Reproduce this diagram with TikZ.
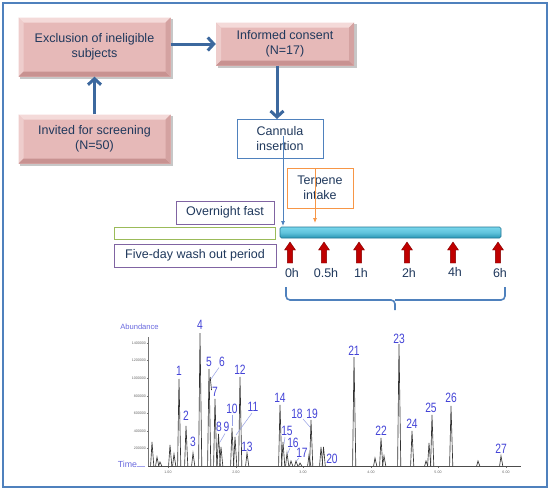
\documentclass[tikz,border=0pt]{standalone}
\usepackage{fontspec}
\setmainfont{Liberation Sans}
\newfontfamily\chromfont[FakeStretch=0.76]{Liberation Sans}
\usetikzlibrary{arrows.meta,calc}
\definecolor{frameblue}{RGB}{79,129,189}
\definecolor{arrowblue}{RGB}{60,104,158}
\definecolor{txt}{RGB}{31,56,92}
\definecolor{pinkbase}{RGB}{230,185,184}
\definecolor{pinklight}{RGB}{244,218,217}
\definecolor{pinkdark}{RGB}{200,146,145}
\definecolor{purp}{RGB}{128,100,162}
\definecolor{grn}{RGB}{155,187,89}
\definecolor{orng}{RGB}{247,150,70}
\definecolor{cyanlight}{RGB}{120,214,236}
\definecolor{cyandark}{RGB}{40,150,180}
\definecolor{cyanedge}{RGB}{35,120,150}
\definecolor{redarrow}{RGB}{192,0,0}
\definecolor{rededge}{RGB}{130,0,0}
\definecolor{chromlbl}{RGB}{68,68,215}
\definecolor{leader}{RGB}{150,160,230}
\tikzset{
  bevelbox/.style={fill=pinkbase, inner sep=0pt, align=center, text=txt,
    font=\fontsize{12.5}{15.5}\selectfont,
    path picture={
      \fill[pinklight] (path picture bounding box.north west) -- (path picture bounding box.north east)
        -- ([xshift=-5pt,yshift=-5pt]path picture bounding box.north east) -- ([xshift=5pt,yshift=-5pt]path picture bounding box.north west) -- cycle;
      \fill[pinklight!60!pinkbase] (path picture bounding box.north west) -- ([xshift=5pt,yshift=-5pt]path picture bounding box.north west)
        -- ([xshift=5pt,yshift=5pt]path picture bounding box.south west) -- (path picture bounding box.south west) -- cycle;
      \fill[pinkdark] (path picture bounding box.south west) -- (path picture bounding box.south east)
        -- ([xshift=-5pt,yshift=5pt]path picture bounding box.south east) -- ([xshift=5pt,yshift=5pt]path picture bounding box.south west) -- cycle;
      \fill[pinkdark!60!pinkbase] (path picture bounding box.north east) -- ([xshift=-5pt,yshift=-5pt]path picture bounding box.north east)
        -- ([xshift=-5pt,yshift=5pt]path picture bounding box.south east) -- (path picture bounding box.south east) -- cycle;
    }},
  thinbox/.style={draw=#1, line width=0.9pt, fill=white, inner sep=0pt, align=center, text=txt,
    font=\fontsize{12.5}{15.5}\selectfont},
  flowarrow/.style={draw=arrowblue, line width=3pt, -{Straight Barb[length=6pt,width=13pt]}},
  markarrow/.style={line width=0.8pt, -{Latex[length=5pt,width=4pt]}},
  hourlbl/.style={text=txt, font=\fontsize{12.5}{15}\selectfont, inner sep=0pt},
  redup/.style={fill=redarrow, draw=rededge, line width=0.4pt},
  peak/.style={draw=black!80, line width=0.65pt},
  clbl/.style={text=chromlbl, font=\chromfont\fontsize{13.5}{13.5}\selectfont, inner sep=0pt},
  leadline/.style={draw=leader, line width=0.5pt},
  ticklbl/.style={text=black!60, font=\fontsize{3.6}{4}\selectfont, inner sep=0pt},
}
\begin{document}
\begin{tikzpicture}[x=1pt,y=-1pt]
\useasboundingbox (0,0) rectangle (550,491);
\fill[white] (0,0) rectangle (550,491);
% outer frame
\draw[frameblue, line width=2pt] (3,3) rectangle (547,487);

% shadows
\fill[black!22] (20,19) rectangle (173,79);
\fill[black!22] (20,116) rectangle (173,166);
\fill[black!22] (218,24) rectangle (357,68);
% pink boxes
\node[bevelbox, minimum width=152pt, minimum height=59pt] (excl) at (94.5,47) {Exclusion of ineligible\\subjects};
\node[bevelbox, minimum width=152pt, minimum height=49pt] (invit) at (94.5,139) {Invited for screening\\(N=50)};
\node[bevelbox, minimum width=138pt, minimum height=43pt] (cons) at (285,44) {Informed consent\\(N=17)};

\draw[flowarrow] (invit.north) -- (excl.south);
\draw[flowarrow] (excl.east |- cons.west) -- (cons.west);

% cannula and terpene
\node[thinbox=frameblue, minimum width=86pt, minimum height=39pt] (cann) at (280,138.5) {Cannula\\insertion};
\draw[flowarrow] (cons.south -| 277,0) -- (277,119);
\node[thinbox=orng, minimum width=66pt, minimum height=40pt] (terp) at (320,188) {Terpene\\intake};

\node[thinbox=purp, minimum width=98pt, minimum height=23pt] (fast) at (225,212.5) {Overnight fast};
\node[draw=grn, line width=0.9pt, fill=white, minimum width=161pt, minimum height=12pt, inner sep=0pt] (wash) at (194.5,233) {};
\node[thinbox=purp, minimum width=162pt, minimum height=23pt] (five) at (195,255.5) {Five-day wash out period};

% cyan bar
\node[rounded corners=1.5pt, draw=cyanedge, line width=0.6pt, top color=cyanlight, bottom color=cyandark, middle color=cyanlight!70!cyandark,
      minimum width=221pt, minimum height=11pt, inner sep=0pt] (bar) at (390.5,232.5) {};

% marker arrows
\coordinate (cstart) at (283,136);
\coordinate (ctip) at (283,226);
\draw[markarrow, draw=frameblue, fill=frameblue] (cstart) -- (ctip);
\coordinate (tstart) at (315,168);
\coordinate (ttip) at (315,223);
\draw[markarrow, draw=orng, fill=orng] (tstart) -- (ttip);

% red arrows and hour labels
\foreach \hx/\hl/\hy [count=\i] in {290/0h/273, 324/0.5h/273, 359/1h/273, 407/2h/273, 453/4h/271.5, 498/6h/273}{
  \draw[redup] (\hx-2.6,263) -- (\hx-2.6,250) -- (\hx-5.5,250) -- (\hx,242) -- (\hx+5.5,250) -- (\hx+2.6,250) -- (\hx+2.6,263) -- cycle;
  \node[hourlbl] (h\i) at (\hx+2,\hy) {\hl};
}

% brace
\coordinate (bl) at (286,287);
\coordinate (br) at (505,287);
\coordinate (bm) at (395,310);
\draw[frameblue, line width=1.6pt, rounded corners=4pt] (bl) -- (286,300) -- (395,300) -- (bm);
\draw[frameblue, line width=1.6pt, rounded corners=4pt] (br) -- (505,300) -- (395,300);

% chromatogram
\node[text=chromlbl!80, font=\fontsize{7.6}{8}\selectfont, inner sep=0pt] (abund) at (139.5,327) {Abundance};
\node[text=chromlbl!80, font=\fontsize{8.8}{9}\selectfont, inner sep=0pt] (timel) at (127.5,464) {Time};
\draw[chromlbl!50, line width=0.6pt] (137,466.5) -- (145,466.5);
\draw[black!55, line width=0.5pt] (148,337) -- (148,466);
\foreach \v/\yy in {1400000/343, 1200000/360.5, 1000000/378, 800000/396, 600000/413.5, 400000/431, 200000/448.5}{
  \draw[black!55, line width=0.3pt] (146.5,\yy) -- (148,\yy);
  \node[ticklbl, anchor=east] at (146,\yy) {\v};
}
\foreach \xx/\xl in {168/1.00, 236/2.00, 303/3.00, 371/4.00, 438/5.00, 506/6.00}{
  \draw[black!55, line width=0.3pt] (\xx,466) -- (\xx,467.5);
  \node[ticklbl] at (\xx,472) {\xl};
}
\draw[black!70, line width=0.5pt] (148,466) -- (521,466);
\foreach \px/\py in {152/442, 157/457, 160/462, 170/445, 174/454, 179/379, 186/426, 193/453, 200/333,
  209/369, 215/399, 218.5/434, 221/447, 232/428, 235/437, 240/377, 247/453, 280/405, 283/442, 287/453,
  291/461, 296/461, 300/463, 309/455, 311/420, 321/447, 323.5/447, 354/357, 375/458, 381/438, 384/456,
  399/344, 412/431, 426/461, 429/443, 432/415, 451/406, 478/461, 501/456}{
  \draw[peak] (\px-1.4,466) -- (\px,\py) -- (\px+1.8,466);
}
\draw[peak] (210.2,377) -- (211.5,390);

% peak labels
\foreach \lx/\ly/\lt [count=\j] in {179/371/1, 186/416/2, 193/442/3, 200/325/4, 209/362/5, 222/362/6, 215/392/7,
  219/427/8, 226.5/427/9, 232/409/10, 253/407/11, 240/370/12, 247/447/13, 280/398/14, 287/431/15, 293/443/16,
  302/453/17, 297/414/18, 312/414/19, 332/459/20, 354/351/21, 381/431/22, 399/339/23, 412/424/24, 431/408/25,
  451/398/26, 501/449/27}{
  \node[clbl] (p\j) at (\lx,\ly) {\lt};
}
\draw[leadline] (219,367.5) -- (211,379);
\draw[leadline] (225,433.5) -- (220,442);
\draw[leadline] (232,414.5) -- (232,426);
\draw[leadline] (252,413) -- (236,435);
\draw[leadline] (285,437) -- (284,444);
\draw[leadline] (290,448) -- (287.5,454);
\draw[leadline] (299,458) -- (296.5,461);
\draw[leadline] (303,419) -- (310,427);
\end{tikzpicture}
\end{document}
